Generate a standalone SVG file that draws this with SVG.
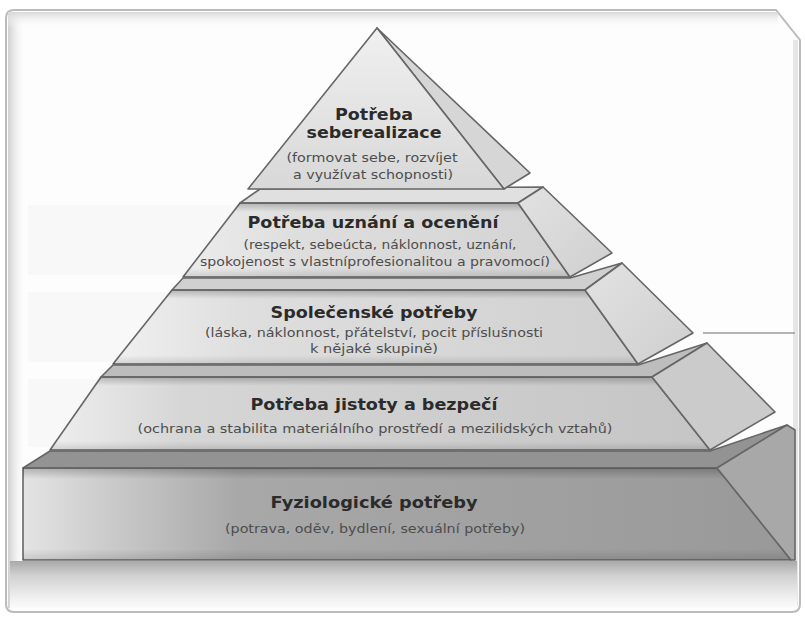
<svg xmlns="http://www.w3.org/2000/svg" width="805" height="620" viewBox="0 0 805 620">
<defs>
<style>
.edge{stroke:#666;stroke-width:1.6;stroke-linejoin:round}
.t{font-family:"DejaVu Sans",Verdana,sans-serif;font-weight:bold;font-size:16.5px;fill:#2b2b2b;text-anchor:middle}
.s{font-family:"DejaVu Sans",Verdana,sans-serif;font-size:12.5px;fill:#4d4d4d;text-anchor:middle}
</style>
<linearGradient id="gf1" x1="0" y1="0" x2="0" y2="1"><stop offset="0" stop-color="#f0f0f0"/><stop offset="1" stop-color="#d8d8d8"/></linearGradient>
<linearGradient id="gf2" x1="0" y1="0" x2="1" y2="0"><stop offset="0" stop-color="#ececec"/><stop offset="0.3" stop-color="#dedede"/><stop offset="1" stop-color="#d3d3d3"/></linearGradient>
<linearGradient id="gf3" x1="0" y1="0" x2="1" y2="0"><stop offset="0" stop-color="#f0f0f0"/><stop offset="0.25" stop-color="#dedede"/><stop offset="1" stop-color="#d0d0d0"/></linearGradient>
<linearGradient id="gf4" x1="0" y1="0" x2="1" y2="0"><stop offset="0" stop-color="#eeeeee"/><stop offset="0.2" stop-color="#d6d6d6"/><stop offset="1" stop-color="#c5c5c5"/></linearGradient>
<linearGradient id="gf5" x1="0" y1="0" x2="1" y2="0"><stop offset="0" stop-color="#e4e4e4"/><stop offset="0.1" stop-color="#cdcdcd"/><stop offset="0.28" stop-color="#a8a8a8"/><stop offset="1" stop-color="#999"/></linearGradient>
<linearGradient id="shade" x1="0" y1="0" x2="0" y2="1"><stop offset="0" stop-color="#000" stop-opacity="0.22"/><stop offset="0.12" stop-color="#000" stop-opacity="0"/><stop offset="0.88" stop-color="#000" stop-opacity="0"/><stop offset="1" stop-color="#000" stop-opacity="0.12"/></linearGradient>
<linearGradient id="gside" x1="0" y1="0" x2="1" y2="1"><stop offset="0" stop-color="#e2e2e2"/><stop offset="1" stop-color="#cfcfcf"/></linearGradient>
<linearGradient id="gbottom" x1="0" y1="0" x2="0" y2="1"><stop offset="0" stop-color="#a9a9a9"/><stop offset="0.3" stop-color="#d0d0d0"/><stop offset="0.75" stop-color="#eeeeee"/><stop offset="1" stop-color="#fbfbfb"/></linearGradient>
<linearGradient id="gleft" x1="0" y1="0" x2="1" y2="0"><stop offset="0" stop-color="#cfcfcf"/><stop offset="1" stop-color="#fff" stop-opacity="0"/></linearGradient>
<linearGradient id="gtop" x1="0" y1="0" x2="0" y2="1"><stop offset="0" stop-color="#d8d8d8"/><stop offset="1" stop-color="#fff" stop-opacity="0"/></linearGradient>
</defs>

<g id="frame">
<path d="M14,10 H776 L800,40 V604 Q800,612 792,612 H14 Q6,612 6,604 V18 Q6,10 14,10 Z" fill="#fdfdfd" stroke="#bbb" stroke-width="2"/>
<rect x="8" y="12" width="18" height="596" fill="url(#gleft)"/>
<rect x="8" y="12" width="770" height="16" fill="url(#gtop)"/>
<rect x="793" y="40" width="5" height="566" fill="#e6e6e6"/>
<rect x="10" y="561" width="787" height="47" fill="url(#gbottom)"/>
<rect x="28" y="205" width="230" height="70" fill="#f8f8f8"/>
<rect x="28" y="292" width="160" height="70" fill="#f8f8f8"/>
<rect x="28" y="379" width="100" height="68" fill="#f8f8f8"/>
</g>

<g id="level5">
<polygon class="edge" points="50,451 710,451 787,425 717,468 23,468" fill="#939393"/>
<polygon class="edge" points="23,468 717,468 791,560 23,560" fill="url(#gf5)"/>
<polygon points="23,468 717,468 791,560 23,560" fill="url(#shade)"/>
<polygon class="edge" points="717,468 787,425 795,430 795,560 791,560" fill="#a8a8a8"/>
<text class="t" x="374" y="508" textLength="207" lengthAdjust="spacingAndGlyphs">Fyziologické potřeby</text>
<text class="s" x="375" y="533" textLength="300" lengthAdjust="spacingAndGlyphs">(potrava, oděv, bydlení, sexuální potřeby)</text>
</g>

<g id="level4">
<polygon class="edge" points="113,365 638,365 707,343 652,377 101,377" fill="#bdbdbd"/>
<polygon class="edge" points="101,377 652,377 710,450 50,450" fill="url(#gf4)"/>
<polygon points="101,377 652,377 710,450 50,450" fill="url(#shade)"/>
<polygon class="edge" points="652,377 707,343 775,412 710,450" fill="#cbcbcb"/>
<text class="t" x="374" y="410" textLength="247" lengthAdjust="spacingAndGlyphs">Potřeba jistoty a bezpečí</text>
<text class="s" x="375" y="433" textLength="475" lengthAdjust="spacingAndGlyphs">(ochrana a stabilita materiálního prostředí a mezilidských vztahů)</text>
</g>

<g id="level3">
<polygon class="edge" points="183,278 570,278 622,263 585,290 172,290" fill="#d0d0d0"/>
<polygon class="edge" points="172,290 585,290 638,364 113,364" fill="url(#gf3)"/>
<polygon points="172,290 585,290 638,364 113,364" fill="url(#shade)"/>
<polygon class="edge" points="585,290 622,263 693,333 638,364" fill="url(#gside)"/>
<text class="t" x="374" y="318" textLength="207" lengthAdjust="spacingAndGlyphs">Společenské potřeby</text>
<text class="s" x="374" y="337" textLength="338" lengthAdjust="spacingAndGlyphs">(láska, náklonnost, přátelství, pocit příslušnosti</text>
<text class="s" x="374" y="353" textLength="128" lengthAdjust="spacingAndGlyphs">k nějaké skupině)</text>
</g>

<g id="level2">
<polygon class="edge" points="260,189 543,187 518,203 240,203" fill="#e0e0e0"/>
<polygon class="edge" points="240,203 518,203 570,277 183,277" fill="url(#gf2)"/>
<polygon points="240,203 518,203 570,277 183,277" fill="url(#shade)"/>
<polygon class="edge" points="518,203 543,187 612,253 570,277" fill="url(#gside)"/>
<text class="t" x="373" y="228" textLength="251" lengthAdjust="spacingAndGlyphs">Potřeba uznání a ocenění</text>
<text class="s" x="380" y="249" textLength="273" lengthAdjust="spacingAndGlyphs">(respekt, sebeúcta, náklonnost, uznání,</text>
<text class="s" x="375" y="266" textLength="350" lengthAdjust="spacingAndGlyphs">spokojenost s vlastníprofesionalitou a pravomocí)</text>
</g>

<g id="level1">
<polygon class="edge" points="377,28 530,173 504,189" fill="#d6d6d6"/>
<polygon class="edge" points="377,28 504,189 248,189" fill="url(#gf1)"/>
<text class="t" x="374" y="120" textLength="78" lengthAdjust="spacingAndGlyphs">Potřeba</text>
<text class="t" x="374" y="138" textLength="135" lengthAdjust="spacingAndGlyphs">seberealizace</text>
<text class="s" x="372" y="162" textLength="171" lengthAdjust="spacingAndGlyphs">(formovat sebe, rozvíjet</text>
<text class="s" x="373" y="179" textLength="160" lengthAdjust="spacingAndGlyphs">a využívat schopnosti)</text>
</g>

<g id="connectors">
<line x1="703" y1="333" x2="795" y2="333" stroke="#9a9a9a" stroke-width="1.5"/>
</g>
</svg>
